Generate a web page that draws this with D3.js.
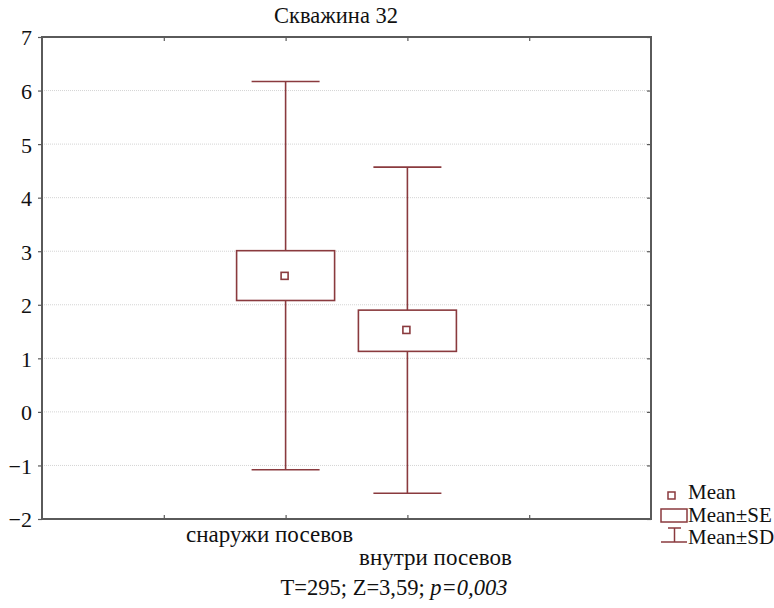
<!DOCTYPE html>
<html><head><meta charset="utf-8">
<script src="https://cdn.jsdelivr.net/npm/d3@7"></script>
<style>body{margin:0;background:#fff}svg{display:block}</style>
</head><body><svg id="c" width="774" height="608"></svg>
<script>
const chartTitle = "Скважина 32";
const categories = ["снаружи посевов", "внутри посевов"];
const means = [2.54, 1.53];
const seLow = [2.08, 1.13];
const seHigh = [3.01, 1.90];
const sdLow = [-1.08, -1.52];
const sdHigh = [6.17, 4.57];
const yTicks = [-2, -1, 0, 1, 2, 3, 4, 5, 6, 7];
const legendLabels = ["Mean", "Mean±SE", "Mean±SD"];
const footer = ["T=295; Z=3,59; ", "p=0,003"];

const svg = d3.select("#c");
const m = {l: 42, r: 651, t: 37, b: 519};
const col = "#8a3a3e";
const axisCol = "#5a5a5a";

function serif(sel, size) {
  return sel.each(function () {
    this.style.setProperty("font-family", "Liberation Serif", "important");
    this.style.setProperty("font-size", size + "px", "important");
  }).attr("fill", "#111");
}

const slots = ["a", ...categories, "b"];
const x = d3.scalePoint().domain(slots).range([m.l, m.r]).padding(1);
const y = d3.scaleLinear().domain([-2, 7]).range([m.b, m.t]);

svg.append("g").selectAll("line").data(yTicks.filter(v => v > -2 && v < 7)).join("line")
  .attr("x1", m.l).attr("x2", m.r).attr("y1", d => y(d)).attr("y2", d => y(d))
  .attr("stroke", "#d4d4d4").attr("stroke-width", 1).attr("stroke-dasharray", "1,1");

const gL = svg.append("g").attr("transform", `translate(${m.l},0)`)
  .call(d3.axisLeft(y).tickValues(yTicks).tickSize(4).tickPadding(6).tickFormat(d => d < 0 ? "\u2212" + Math.abs(d) : d));
serif(gL.selectAll("text"), 22).attr("dy", "0.36em");
const gR = svg.append("g").attr("transform", `translate(${m.r},0)`)
  .call(d3.axisLeft(y).tickValues(yTicks).tickSize(4).tickFormat(""));
const gB = svg.append("g").attr("transform", `translate(0,${m.b})`)
  .call(d3.axisTop(x).tickSize(4).tickFormat(""));
const gT = svg.append("g").attr("transform", `translate(0,${m.t})`)
  .call(d3.axisBottom(x).tickSize(4).tickFormat(""));
[gL, gR, gB, gT].forEach(g => {
  g.select(".domain").remove();
  g.selectAll(".tick line").attr("stroke", axisCol).attr("stroke-width", 1.2);
});
svg.append("rect").attr("x", m.l).attr("y", m.t).attr("width", m.r - m.l).attr("height", m.b - m.t)
  .attr("fill", "none").attr("stroke", axisCol).attr("stroke-width", 2);

const labOff = [-16, 28];
const labY = [542, 565];
categories.forEach((c, i) => {
  serif(svg.append("text").attr("x", x(c) + labOff[i]).attr("y", labY[i]).attr("text-anchor", "middle"), 23).text(c);
});

const boxW = 98, capW = 68, mk = 7;
const g = svg.append("g").attr("stroke", col).attr("stroke-width", 1.6).attr("fill", "none");
categories.forEach((c, i) => {
  const cx = x(c);
  g.append("line").attr("x1", cx).attr("x2", cx).attr("y1", y(sdHigh[i])).attr("y2", y(seHigh[i]));
  g.append("line").attr("x1", cx).attr("x2", cx).attr("y1", y(seLow[i])).attr("y2", y(sdLow[i]));
  g.append("line").attr("x1", cx - capW / 2).attr("x2", cx + capW / 2).attr("y1", y(sdHigh[i])).attr("y2", y(sdHigh[i]));
  g.append("line").attr("x1", cx - capW / 2).attr("x2", cx + capW / 2).attr("y1", y(sdLow[i])).attr("y2", y(sdLow[i]));
  g.append("rect").attr("x", cx - boxW / 2).attr("y", y(seHigh[i])).attr("width", boxW)
    .attr("height", y(seLow[i]) - y(seHigh[i])).attr("fill", "#fff");
  g.append("rect").attr("x", cx - mk / 2 - 1).attr("y", y(means[i]) - mk / 2).attr("width", mk).attr("height", mk).attr("fill", "#fff");
});

serif(svg.append("text").attr("x", 336).attr("y", 23).attr("text-anchor", "middle"), 22.5).text(chartTitle);

const ft = serif(svg.append("text").attr("x", 394).attr("y", 595).attr("text-anchor", "middle"), 22.5);
ft.append("tspan").text(footer[0]);
ft.append("tspan").attr("font-style", "italic").text(footer[1]);

const lg = svg.append("g");
const ls = lg.append("g").attr("stroke", col).attr("stroke-width", 1.5).attr("fill", "none");
ls.append("rect").attr("x", 668).attr("y", 492).attr("width", 7).attr("height", 7);
ls.append("rect").attr("x", 661).attr("y", 509).attr("width", 26).attr("height", 13);
ls.append("line").attr("x1", 668).attr("x2", 681).attr("y1", 528).attr("y2", 528);
ls.append("line").attr("x1", 674.5).attr("x2", 674.5).attr("y1", 528).attr("y2", 542);
ls.append("line").attr("x1", 661).attr("x2", 687).attr("y1", 542).attr("y2", 542);
const legY = [499, 522, 544];
legendLabels.forEach((t, i) => {
  serif(lg.append("text").attr("x", 688).attr("y", legY[i]), 21).text(t);
});
</script></body></html>
